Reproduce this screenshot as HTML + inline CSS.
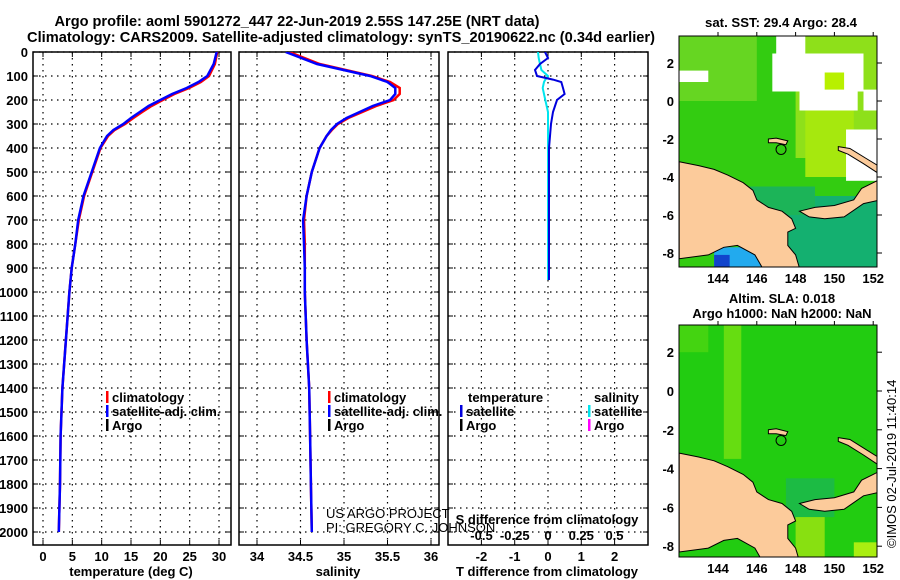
<!DOCTYPE html>
<html><head><meta charset="utf-8">
<style>
html,body{margin:0;padding:0;background:#fff;}
svg{display:block;font-family:"Liberation Sans",sans-serif;}
.tk{font-size:13px;font-weight:bold;fill:#000;}
.lg{font-size:13px;font-weight:bold;fill:#000;}
</style></head>
<body>
<svg id="fig" width="900" height="580" viewBox="0 0 900 580">
<defs>
<clipPath id="c1"><rect x="33" y="52" width="198" height="493"/></clipPath>
<clipPath id="c2"><rect x="239" y="52" width="200" height="493"/></clipPath>
<clipPath id="c3"><rect x="448" y="52" width="200" height="493"/></clipPath>
<clipPath id="m1c"><rect x="679" y="36" width="198" height="231"/></clipPath>
<clipPath id="m2c"><rect x="679" y="325" width="198" height="232"/></clipPath>
</defs>
<text x="297" y="26" text-anchor="middle" font-size="15" font-weight="bold" textLength="485" lengthAdjust="spacingAndGlyphs">Argo profile: aoml 5901272_447 22-Jun-2019 2.55S 147.25E (NRT data)</text>
<text x="341" y="42" text-anchor="middle" font-size="15" font-weight="bold" textLength="628" lengthAdjust="spacingAndGlyphs">Climatology: CARS2009. Satellite-adjusted climatology: synTS_20190622.nc (0.34d earlier)</text>
<text x="781" y="27" text-anchor="middle" font-size="13" font-weight="bold" textLength="152" lengthAdjust="spacingAndGlyphs">sat. SST: 29.4 Argo: 28.4</text>
<text x="782" y="303" text-anchor="middle" font-size="13" font-weight="bold">Altim. SLA: 0.018</text>
<text x="782" y="318" text-anchor="middle" font-size="13" font-weight="bold">Argo h1000: NaN h2000: NaN</text>
<text transform="translate(896,548) rotate(-90)" font-size="13">©IMOS 02-Jul-2019 11:40:14</text>
<g id="g"></g>
</svg>
<script>
// ---- data ----
const depthLevels = [0,50,100,125,150,175,200,225,250,275,300,325,350,400,500,600,700,800,900,1000,1200,1400,1600,1800,2000];
const tempSatAdj = [29.6,29.1,28.0,26.5,24.5,22.0,20.0,18.0,16.5,15.0,13.7,12.0,10.9,9.7,8.3,6.9,6.0,5.5,4.9,4.5,3.9,3.3,3.0,2.9,2.7];
const tempClim   = [29.7,29.3,28.3,26.9,24.9,22.4,20.4,18.5,16.9,15.4,14.0,12.2,11.1,9.8,8.4,7.0,6.1,5.5,4.9,4.5,3.9,3.3,3.0,2.9,2.7];
const salSatAdj  = [34.33,34.69,35.30,35.50,35.59,35.59,35.53,35.33,35.18,35.03,34.92,34.85,34.80,34.72,34.63,34.57,34.53,34.54,34.55,34.55,34.57,34.60,34.61,34.62,34.63];
const salClim    = [34.37,34.72,35.32,35.53,35.64,35.64,35.57,35.37,35.21,35.05,34.93,34.86,34.80,34.72,34.63,34.57,34.54,34.55,34.55,34.55,34.57,34.60,34.61,34.62,34.63];
const diffDepths = [0,25,50,75,100,115,125,150,175,200,250,300,400,500,700,950];
const tempDiffSat = [-0.09,0.0,-0.24,-0.39,-0.33,0.15,0.40,0.45,0.5,0.27,0.15,0.09,0.03,0.03,0.03,0.03];
const salDiffSat  = [-0.075,-0.07,-0.06,-0.05,0.0,-0.02,-0.03,-0.04,-0.03,-0.02,0.0,0.0,0.0,0.0,0.0,0.0];
const depthTicks = [0,100,200,300,400,500,600,700,800,900,1000,1100,1200,1300,1400,1500,1600,1700,1800,1900,2000];
const tempTicks = [0,5,10,15,20,25,30];
const salTicks = [34,34.5,35,35.5,36];
const tdiffTicks = [-2,-1,0,1,2];
const sdiffTicks = [-0.5,-0.25,0,0.25,0.5];
const latTicks = [2,0,-2,-4,-6,-8];
const lonTicks = [144,146,148,150,152];

// ---- axes ----
const yD = d => 52 + d*0.24;
const xT = t => 43 + t*5.867;
const xS = s => 257 + (s-34)*87;
const xTd = v => 548 + v*33.3;
const xSd = v => 548 + v*133;
const lonX = l => 718 + (l-144)*19.4;
const lat1 = a => 101 - a*19;
const lat2 = a => 391 - a*19.4;

const NS="http://www.w3.org/2000/svg";
const G=document.getElementById('g');
function mk(tag,at,parent){const e=document.createElementNS(NS,tag);for(const k in at)e.setAttribute(k,at[k]);(parent||G).appendChild(e);return e;}

const TOP=52, BOT=545;
const panels=[{x0:33,x1:231,clip:'c1',name:'temperature-panel'},{x0:239,x1:439,clip:'c2',name:'salinity-panel'},{x0:448,x1:648,clip:'c3',name:'difference-panel'}];
panels.forEach((p,i)=>{
  const pg=mk('g',{});
  
  
  depthTicks.forEach(d=>{
    const y=yD(d);
    const l=mk('line',{x1:p.x0,x2:p.x1,y1:y,y2:y,stroke:'#000','stroke-width':1.2,'stroke-dasharray':'1.5,4.5'},pg);
    
    
    mk('line',{x1:p.x0,x2:p.x0+5,y1:y,y2:y,stroke:'#000'},pg);
    mk('line',{x1:p.x1-5,x2:p.x1,y1:y,y2:y,stroke:'#000'},pg);
  });
  const xt = i==0?tempTicks.map(xT):i==1?salTicks.map(xS):tdiffTicks.map(xTd);
  xt.forEach(x=>{
    mk('line',{x1:x,x2:x,y1:TOP,y2:BOT,stroke:'#000','stroke-width':1.2,'stroke-dasharray':'1.5,4.5'},pg);
    mk('line',{x1:x,x2:x,y1:BOT,y2:BOT-5,stroke:'#000'},pg);
    mk('line',{x1:x,x2:x,y1:TOP,y2:TOP+5,stroke:'#000'},pg);
  });
  const fr=mk('rect',{x:p.x0,y:TOP,width:p.x1-p.x0,height:BOT-TOP,fill:'none',stroke:'#000','stroke-width':1.5},pg);
  
  
});
depthTicks.forEach(d=>{
  const t=mk('text',{x:28,y:yD(d)+5,'text-anchor':'end',class:'tk'});
  t.textContent=d;
  
  
});
function xlabels(vals,f,y){vals.forEach(v=>{const t=mk('text',{x:f(v),y:y,'text-anchor':'middle',class:'tk'});t.textContent=v;
  
  });}
xlabels(tempTicks,xT,561);
xlabels(salTicks,xS,561);
xlabels(tdiffTicks,xTd,561);
xlabels(sdiffTicks,xSd,540);
function axTitle(txt,x,y,name){const t=mk('text',{x:x,y:y,'text-anchor':'middle',class:'tk'});t.textContent=txt;
  
  }
axTitle('temperature (deg C)',131,576,'x-axis-title-temperature');
axTitle('salinity',338,576,'x-axis-title-salinity');
axTitle('T difference from climatology',547,576,'x-axis-title-tdiff');
axTitle('S difference from climatology',547,524,'x-axis-title-sdiff');

function line(xs,ys,fx,color,clip,name,w){
  const pts=xs.map((v,i)=>fx(v).toFixed(1)+','+yD(ys[i]).toFixed(1)).join(' ');
  const e=mk('polyline',{points:pts,fill:'none',stroke:color,'stroke-width':w||2.5,'clip-path':'url(#'+clip+')'});
  
  
}
line(tempClim,depthLevels,xT,'#ff0000','c1','temp-climatology-line');
line(tempSatAdj,depthLevels,xT,'#0000ff','c1','temp-satellite-adj-line');
line(salClim,depthLevels,xS,'#ff0000','c2','sal-climatology-line');
line(salSatAdj,depthLevels,xS,'#0000ff','c2','sal-satellite-adj-line');
line(salDiffSat,diffDepths,xSd,'#00e5ee','c3','sal-diff-satellite-line',2);
line(tempDiffSat,diffDepths,xTd,'#0000dd','c3','temp-diff-satellite-line',2);

function leg(x,y,color,txt,name){
  mk('rect',{x:x,y:y-11,width:2.5,height:12,fill:color});
  const t=mk('text',{x:x+6,y:y,class:'lg'});t.textContent=txt;
  
  
}
leg(106,402,'#ff0000','climatology','legend-climatology');
leg(106,416,'#0000ff','satellite-adj. clim.','legend-satellite-adj');
leg(106,430,'#000','Argo','legend-argo');
leg(328,402,'#ff0000','climatology','legend-sal-climatology');
leg(328,416,'#0000ff','satellite-adj. clim.','legend-sal-satellite-adj');
leg(328,430,'#000','Argo','legend-sal-argo');
{const t=mk('text',{x:468,y:402,class:'lg'});t.textContent='temperature';
 
 }
leg(460,416,'#0000dd','satellite','legend-tdiff-satellite');
leg(460,430,'#000','Argo','legend-tdiff-argo');
{const t=mk('text',{x:594,y:402,class:'lg'});t.textContent='salinity';
 
 }
leg(588,416,'#00e5ee','satellite','legend-sdiff-satellite');
leg(588,430,'#ff00ff','Argo','legend-sdiff-argo');
{const t=mk('text',{x:326,y:518,'font-size':13});t.textContent='US ARGO PROJECT';
 
 
 const t2=mk('text',{x:326,y:532,'font-size':13});t2.textContent='PI: GREGORY C. JOHNSON';
 
 }

// ---- maps ----
const land=[[142,-3.2],[143,-3.4],[143.8,-3.6],[144.5,-3.9],[145.3,-4.3],[145.8,-4.7],[146,-5.2],[146.6,-5.6],[147.3,-5.8],[147.8,-6.2],[148,-6.7],[147.6,-6.9],[147.6,-7.6],[148,-8.1],[148.2,-8.8],[146.3,-8.8],[145.9,-8.1],[145,-7.6],[144.3,-7.7],[143.5,-8.1],[142,-8.3]];
const newBritain=[[148.2,-5.8],[149,-5.6],[150,-5.5],[151,-5.2],[151.4,-4.6],[152,-4.3],[152.4,-4.1],[152.4,-5.2],[151.5,-5.4],[150.5,-6.1],[149.5,-6.2],[148.7,-6.1]];
const newIreland=[[150.2,-2.4],[150.8,-2.5],[151.6,-3.0],[152.4,-3.5],[152.4,-3.9],[151.5,-3.3],[150.7,-2.8],[150.2,-2.6]];
const manus=[[146.6,-2.0],[147.0,-1.95],[147.6,-2.1],[147.5,-2.3],[147.0,-2.2],[146.6,-2.2]];
function poly(pts,lat,fill,clip,name){
  const e=mk('polygon',{points:pts.map(p=>lonX(p[0]).toFixed(1)+','+lat(p[1]).toFixed(1)).join(' '),fill:fill,stroke:'#000','stroke-width':1,'clip-path':'url(#'+clip+')'});
  
  
}
function blk(l0,a0,l1,a1,lat,fill,clip){mk('rect',{x:lonX(l0),y:lat(a0),width:lonX(l1)-lonX(l0),height:lat(a1)-lat(a0),fill:fill,'clip-path':'url(#'+clip+')'});}
// map1 SST
{const bg=mk('rect',{x:679,y:36,width:198,height:231,fill:'#33cc11'});
 
 
 blk(142,3.5,146,0,lat1,'#66d622','m1c');
 blk(148,3.5,152.3,-3,lat1,'#8ee01a','m1c');
 blk(148.5,0,151,-4,lat1,'#a6e80e','m1c');
 blk(146.5,-5,152.3,-8.8,lat1,'#14b070','m1c');
 blk(145.5,-4.5,149,-6,lat1,'#1cb458','m1c');
 blk(147,3.5,148.5,2,lat1,'#fff','m1c');
 blk(146.8,2.5,151.5,0.5,lat1,'#fff','m1c');
 blk(148.2,0.5,151.2,-0.5,lat1,'#fff','m1c');
 blk(142,1.6,143.5,1,lat1,'#fff','m1c');
 blk(150.6,-1.5,152.3,-4.2,lat1,'#fff','m1c');
 blk(151.5,0.6,152.3,-0.5,lat1,'#fff','m1c');
 blk(149.5,1.5,150.5,0.6,lat1,'#b8f000','m1c');
 blk(143.8,-7.7,146.8,-8.8,lat1,'#22aaee','m1c');
 blk(143.8,-8.1,144.6,-8.8,lat1,'#1144cc','m1c');
 poly(land,lat1,'#fccb9b','m1c','map1-new-guinea');
 poly(newBritain,lat1,'#fccb9b','m1c','map1-new-britain');
 poly(newIreland,lat1,'#fccb9b','m1c','map1-new-ireland');
 poly(manus,lat1,'#fccb9b','m1c','map1-manus');
 mk('circle',{cx:lonX(147.25),cy:lat1(-2.55),r:5,fill:'none',stroke:'#000'});
 mk('rect',{x:679,y:36,width:198,height:231,fill:'none',stroke:'#000'});}
// map2 SLA
{const bg=mk('rect',{x:679,y:325,width:198,height:232,fill:'#22cc11'});
 
 
 blk(144.3,3.5,145.2,-3.5,lat2,'#66dd11','m2c');
 blk(147.5,-4.5,150,-6.5,lat2,'#1cbb44','m2c');
 blk(148,-6.5,149.5,-8.8,lat2,'#88e011','m2c');
 blk(151,-7.8,152.3,-8.8,lat2,'#aaee11','m2c');
 blk(142,3.5,143.5,2,lat2,'#44d411','m2c');
 poly(land,lat2,'#fccb9b','m2c','map2-new-guinea');
 poly(newBritain,lat2,'#fccb9b','m2c','map2-new-britain');
 poly(newIreland,lat2,'#fccb9b','m2c','map2-new-ireland');
 poly(manus,lat2,'#fccb9b','m2c','map2-manus');
 mk('circle',{cx:lonX(147.25),cy:lat2(-2.55),r:5,fill:'none',stroke:'#000'});
 mk('rect',{x:679,y:325,width:198,height:232,fill:'none',stroke:'#000'});}
function mapAxes(lat,yb,yt){
  latTicks.forEach(a=>{const y=lat(a);
    const t=mk('text',{x:674,y:y+5,'text-anchor':'end',class:'tk'});t.textContent=a;
    
    
    mk('line',{x1:877,x2:882,y1:y,y2:y,stroke:'#000'});});
  lonTicks.forEach(l=>{const x=lonX(l);
    const t=mk('text',{x:x,y:yb+16,'text-anchor':'middle',class:'tk'});t.textContent=l;
    
    
    mk('line',{x1:x,x2:x,y1:yt,y2:yt-4,stroke:'#000'});});
}
mapAxes(lat1,267,36);
mapAxes(lat2,557,325);
</script>
</body></html>
